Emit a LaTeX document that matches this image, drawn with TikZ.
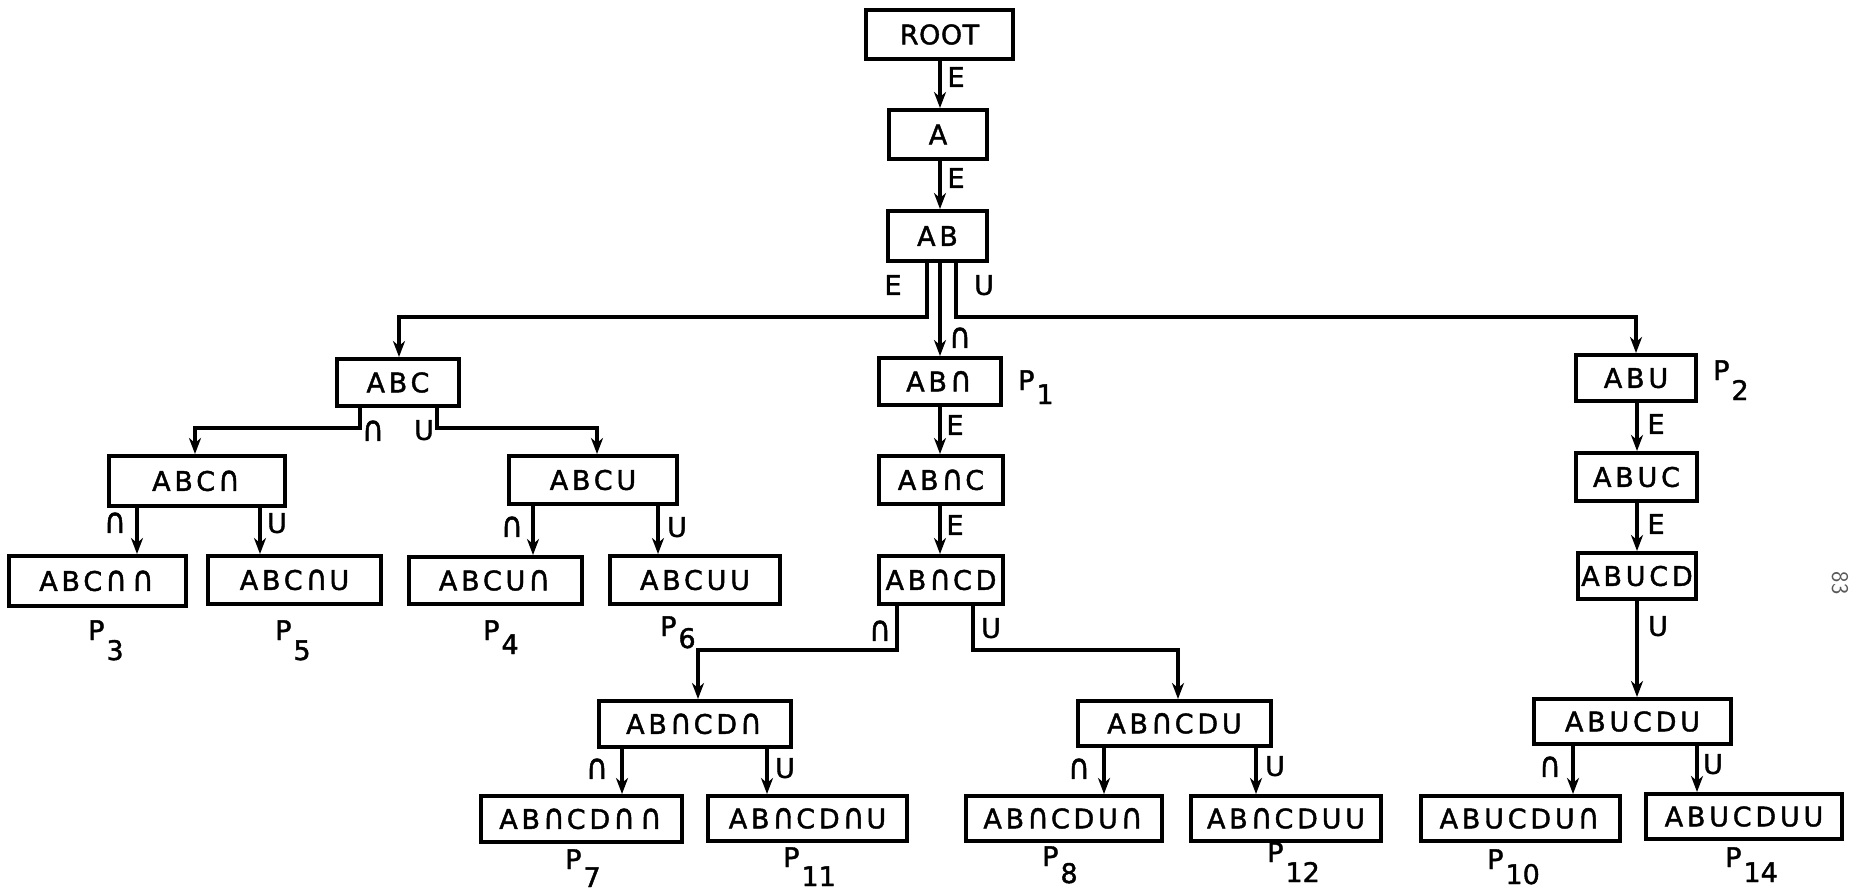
\documentclass[tikz,border=0pt]{standalone}
\usepackage{graphicx}
\usepackage{fontspec}
\setmainfont{DejaVu Sans}[FakeBold=1.5]
\newfontfamily\boxfont{DejaVu Sans}[LetterSpace=14,FakeBold=1.5]
\newfontfamily\rootfont{DejaVu Sans}[LetterSpace=2,FakeBold=1.5]
\usetikzlibrary{arrows.meta}
\newcommand{\ncap}{\scalebox{1.1}[1.3]{∩}}
\newcommand{\bcap}{\kern3pt\scalebox{1.1}[1.3]{∩}\kern2pt}
\newcommand{\bnode}[6]{\node[bx, minimum width={(#3-#2)*1pt}, minimum height={(#5-#4)*1pt}] (#1) at ({(#2+#3)/2},{(#4+#5)/2}) {#6};}
\newcommand{\plab}[5]{\node[pl] (#1) at (#2,#3) {P\kern2pt\raisebox{-#5pt}{#4}};}
\begin{document}
\begin{tikzpicture}[x=1pt,y=-1pt,
  bx/.style={draw, line width=4pt, inner sep=0pt, font=\boxfont\fontsize{27}{27}\selectfont, text height=19.7pt, text depth=0pt},
  lb/.style={font=\fontsize{27}{27}\selectfont, inner sep=0pt, text height=19.7pt, text depth=0pt},
  pl/.style={font=\fontsize{27}{27}\selectfont, inner sep=0pt, anchor=base west},
  ar/.style={line width=4pt, -{Stealth[length=16pt,width=12pt,inset=5pt]}},
]
\useasboundingbox (0,0) rectangle (1855,891);
\fill[white] (0,0) rectangle (1855,891);

% boxes
\node[bx, font=\rootfont\fontsize{27}{27}\selectfont, minimum width=147pt, minimum height=49pt] (root) at (939.5,34.5) {ROOT};
\bnode{A}{889}{987}{110}{159}{A}
\bnode{AB}{888}{987}{211}{261}{AB}
\bnode{ABC}{337}{459}{359}{406}{ABC}
\bnode{ABn}{879}{1001}{358}{405}{AB\bcap}
\bnode{ABu}{1576}{1696}{355}{401}{ABU}
\bnode{ABCn}{109}{285}{456}{506}{ABC\bcap}
\bnode{ABCu}{509}{677}{456}{504}{ABCU}
\bnode{ABnC}{879}{1003}{456}{504}{AB\bcap C}
\bnode{ABuC}{1576}{1697}{453}{501}{ABUC}
\bnode{ABCnn}{9}{186}{556}{606}{ABC\bcap\bcap}
\bnode{ABCnu}{208}{381}{556}{604}{ABC\bcap U}
\bnode{ABCun}{409}{582}{557}{604}{ABCU\bcap}
\bnode{ABCuu}{610}{780}{556}{604}{ABCUU}
\bnode{ABnCD}{879}{1003}{556}{604}{AB\bcap CD}
\bnode{ABuCD}{1578}{1696}{553}{599}{ABUCD}
\bnode{ABnCDn}{599}{791}{701}{747}{AB\bcap CD\bcap}
\bnode{ABnCDu}{1078}{1271}{701}{746}{AB\bcap CDU}
\bnode{ABuCDu}{1534}{1731}{699}{744}{ABUCDU}
\bnode{ABnCDnn}{481}{682}{796}{842}{AB\bcap CD\bcap\bcap}
\bnode{ABnCDnu}{708}{907}{796}{841}{AB\bcap CD\bcap U}
\bnode{ABnCDun}{966}{1162}{796}{841}{AB\bcap CDU\bcap}
\bnode{ABnCDuu}{1191}{1381}{796}{841}{AB\bcap CDUU}
\bnode{ABuCDun}{1421}{1620}{796}{841}{ABUCDU\bcap}
\bnode{ABuCDuu}{1646}{1842}{794}{839}{ABUCDUU}

% bend points
\coordinate (bE) at (399,317);
\coordinate (bU) at (1636,317);
\coordinate (b1) at (195,428);
\coordinate (b2) at (597,428);
\coordinate (b3) at (698,650);
\coordinate (b4) at (1178,650);

% connectors
\draw[ar] (root.south -| 940,0) -- (A.north -| 940,0);
\draw[ar] (A.south -| 940,0) -- (AB.north -| 940,0);
\draw[ar] (AB.south -| 927,0) |- (bE) -- (ABC.north -| bE);
\draw[ar] (AB.south -| 940,0) -- (ABn.north -| 940,0);
\draw[ar] (AB.south -| 956,0) |- (bU) -- (ABu.north -| bU);
\draw[ar] (ABn.south -| 940,0) -- (ABnC.north -| 940,0);
\draw[ar] (ABnC.south -| 940,0) -- (ABnCD.north -| 940,0);
\draw[ar] (ABu.south -| 1637,0) -- (ABuC.north -| 1637,0);
\draw[ar] (ABuC.south -| 1637,0) -- (ABuCD.north -| 1637,0);
\draw[ar] (ABuCD.south -| 1637,0) -- (ABuCDu.north -| 1637,0);
\draw[ar] (ABC.south -| 360,0) |- (b1) -- (ABCn.north -| b1);
\draw[ar] (ABC.south -| 437,0) |- (b2) -- (ABCu.north -| b2);
\draw[ar] (ABCn.south -| 137,0) -- (ABCnn.north -| 137,0);
\draw[ar] (ABCn.south -| 260,0) -- (ABCnu.north -| 260,0);
\draw[ar] (ABCu.south -| 533,0) -- (ABCun.north -| 533,0);
\draw[ar] (ABCu.south -| 658,0) -- (ABCuu.north -| 658,0);
\draw[ar] (ABnCD.south -| 897,0) |- (b3) -- (ABnCDn.north -| b3);
\draw[ar] (ABnCD.south -| 973,0) |- (b4) -- (ABnCDu.north -| b4);
\draw[ar] (ABnCDn.south -| 622,0) -- (ABnCDnn.north -| 622,0);
\draw[ar] (ABnCDn.south -| 767,0) -- (ABnCDnu.north -| 767,0);
\draw[ar] (ABnCDu.south -| 1104,0) -- (ABnCDun.north -| 1104,0);
\draw[ar] (ABnCDu.south -| 1256,0) -- (ABnCDuu.north -| 1256,0);
\draw[ar] (ABuCDu.south -| 1573,0) -- (ABuCDun.north -| 1573,0);
\draw[ar] (ABuCDu.south -| 1697,0) -- (ABuCDuu.north -| 1697,0);

% connector labels
\node[lb] (l1) at (956,77) {E};
\node[lb] (l2) at (956,178) {E};
\node[lb] (l3) at (893,285) {E};
\node[lb] (l4) at (984,285) {U};
\node[lb] (l5) at (960,338) {\ncap};
\node[lb] (l6) at (955,425) {E};
\node[lb] (l7) at (955,525) {E};
\node[lb] (l8) at (1656,424) {E};
\node[lb] (l9) at (1656,524) {E};
\node[lb] (l10) at (1658,626) {U};
\node[lb] (l11) at (373,431) {\ncap};
\node[lb] (l12) at (424,430) {U};
\node[lb] (l13) at (115,523) {\ncap};
\node[lb] (l14) at (277,523) {U};
\node[lb] (l15) at (512,527) {\ncap};
\node[lb] (l16) at (677,527) {U};
\node[lb] (l17) at (880,631) {\ncap};
\node[lb] (l18) at (991,628) {U};
\node[lb] (l19) at (597,769) {\ncap};
\node[lb] (l20) at (785,768) {U};
\node[lb] (l21) at (1079,769) {\ncap};
\node[lb] (l22) at (1275,766) {U};
\node[lb] (l23) at (1550,767) {\ncap};
\node[lb] (l24) at (1713,764) {U};

% P labels
\plab{p1}{1018}{390}{1}{14}
\plab{p2}{1713}{380}{2}{20}
\plab{p3}{88}{640}{3}{20}
\plab{p5}{275}{640}{5}{20}
\plab{p4}{483}{640}{4}{14}
\plab{p6}{660}{636}{6}{12}
\plab{p7}{565}{869}{7}{18}
\plab{p11}{783}{867}{11}{19}
\plab{p8}{1042}{866}{8}{17}
\plab{p12}{1267}{862}{12}{20}
\plab{p10}{1487}{869}{10}{15}
\plab{p14}{1725}{867}{14}{15}

% page number
\node[font=\sffamily\fontsize{24}{24}\selectfont, text=black!65, rotate=-90, inner sep=0pt] (pg) at (1840,583) {83};
\end{tikzpicture}
\end{document}
